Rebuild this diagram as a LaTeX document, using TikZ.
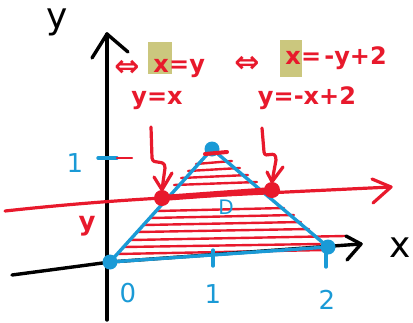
\documentclass[tikz,border=0pt]{standalone}
\usepackage{fontspec}
\setmainfont{DejaVu Sans}
\definecolor{pred}{HTML}{E8192C}
\definecolor{pblue}{HTML}{1A9AD6}
\definecolor{hl}{HTML}{CBC77E}
\begin{document}
\begin{tikzpicture}[x=1pt,y=-1pt,line cap=round,line join=round,
  blackpen/.style={draw=black,line width=3.4pt},
  redpen/.style={draw=pred,line width=3.2pt},
  thinred/.style={draw=pred,line width=2.4pt},
  bluepen/.style={draw=pblue,line width=3.4pt},
  reddot/.style={circle,fill=pred,inner sep=0pt,minimum size=16pt},
  bluedot/.style={circle,fill=pblue,inner sep=0pt,minimum size=15pt},
  redtxt/.style={text=pred,inner sep=0pt,font=\bfseries\fontsize{24}{24}\selectfont},
  bluetxt/.style={text=pblue,inner sep=0pt,font=\fontsize{26}{26}\selectfont},
  blacktxt/.style={text=black,inner sep=0pt,font=\fontsize{36}{36}\selectfont},
  hlbox/.style={fill=hl,inner sep=0pt,minimum width=24pt,minimum height=32pt}]
\useasboundingbox (0,0) rectangle (413,322);

% named points
\coordinate (O) at (110,262);
\coordinate (T) at (212,149);
\coordinate (R) at (328,247);
\coordinate (YB) at (107,320);
\coordinate (YT) at (107,34);
\coordinate (XL) at (12,275);
\coordinate (XT) at (361,244);
\coordinate (LL) at (5,211);
\coordinate (LT) at (391,187);

% hatch lines
\foreach \a/\b/\c/\d in {
  196/164/232/161, 188/171/240/168, 181/178/248/175, 174/185/257/182,
  157/211/284/208, 150/218/294/215, 144/225/301/222, 138/232/309/229,
  131/240/345/236, 124/247/320/244, 117/254/325/250}
  \draw[thinred] (\a,\b) -- (\c,\d);

% axes
\draw[blackpen] (YB) -- (YT);
\draw[blackpen] (92,58) -- (YT) -- (128,52);
\draw[blackpen] (XL) .. controls (50,270) and (80,266) .. (O) -- (XT);
\draw[blackpen] (346,236) -- (XT) -- (347,260);

% ticks
\draw[bluepen] (98,158) -- (117,158);
\draw[draw=pred,line width=2.4pt] (117,158) -- (132,158);
\draw[bluepen] (213,250) -- (213,266);
\draw[bluepen] (326,250) -- (326,267);

% triangle
\draw[bluepen] (O) -- (T) -- (R) -- cycle;

% red horizontal line
\draw[redpen] (LL) .. controls (60,205) and (110,201) .. (162,198) -- (LT);
\draw[redpen] (372,179) -- (LT) -- (373,203);
\draw[draw=pred,line width=6pt] (162,198) -- (272,190);

% dots
\node[bluedot] (dO) at (O) {};
\node[bluedot] (dT) at (T) {};
\node[bluedot] (dR) at (R) {};
\node[reddot] (P1) at (162,198) {};
\node[reddot] (P2) at (272,190) {};
\draw[draw=pred,line width=4pt] (205,154) -- (227,152);

% squiggle arrows
\draw[redpen] (151,127) -- (152,158) .. controls (153,166) and (165,158) .. (165,168) -- (P1.north);
\draw[redpen] (154,177) -- (P1.north) -- (172,173);
\draw[redpen] (262,128) -- (264,152) .. controls (265,160) and (276,148) .. (276,160) -- (P2.north);
\draw[redpen] (267,172) -- (P2.north) -- (283,167);

% labels
\node[blacktxt] (ly) at (57,22) {y};
\node[blacktxt] (lx) at (400,248) {x};
\node[bluetxt] (l1y) at (75,163) {1};
\node[bluetxt] (l0) at (128,293) {0};
\node[bluetxt] (l1) at (213,294) {1};
\node[bluetxt] (l2) at (327,300) {2};
\node[text=pblue,inner sep=0pt,font=\fontsize{20}{20}\selectfont] (lD) at (226,207) {D};
\node[redtxt,font=\bfseries\fontsize{26}{26}\selectfont] (ry) at (87,226) {y};

% equations left
\node[text=pred,inner sep=0pt,font=\bfseries\fontsize{30}{30}\selectfont] (iff1) at (127,68) {⇔};
\node[hlbox] (h1) at (160,58) {};
\node[redtxt,anchor=base] (x1) at (161,72) {x};
\node[redtxt,anchor=base west] (e1) at (169,72) {=y};
\node[redtxt,anchor=base] (eq1) at (157,104) {y=x};

% equations right
\node[text=pred,inner sep=0pt,font=\bfseries\fontsize{30}{30}\selectfont] (iff2) at (247,64) {⇔};
\node[hlbox,minimum height=37pt,minimum width=22pt] (h2) at (291,58) {};
\node[redtxt,anchor=base] (x2) at (293,64) {x};
\node[redtxt,anchor=base west] (e2) at (301,64) {=\hspace{3pt}-y+2};
\node[redtxt,anchor=base] (eq2) at (307,104) {y=-x+2};
\end{tikzpicture}
\end{document}
